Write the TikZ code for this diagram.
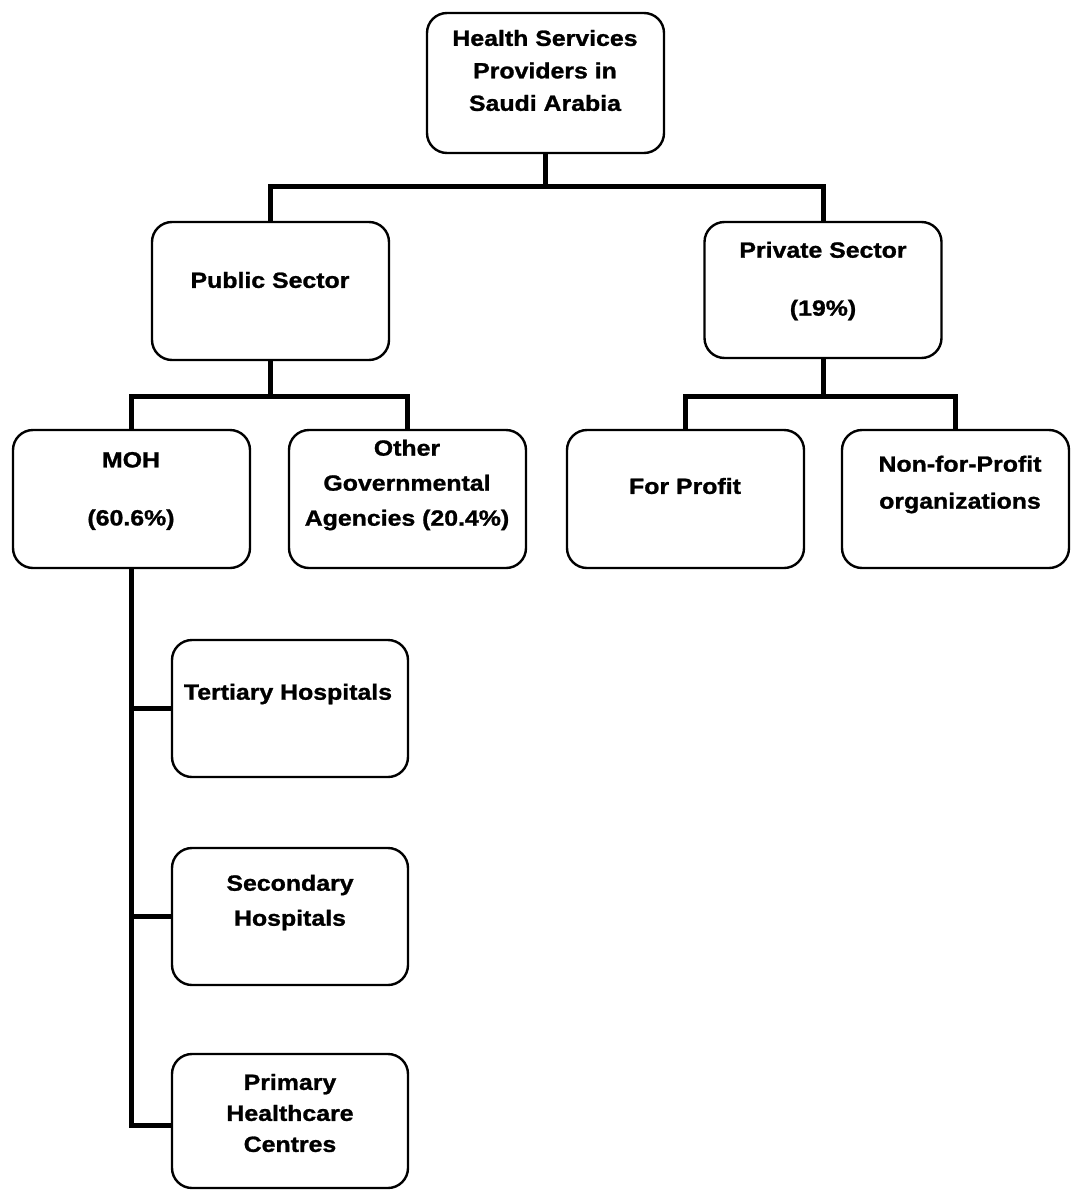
\documentclass[tikz,border=0pt]{standalone}
\usepackage{fontspec}
\setmainfont{Liberation Sans}[FakeStretch=1.13,BoldFeatures={FakeBold=1.2}]
\begin{document}
\begin{tikzpicture}[x=1pt,y=-1pt,
  box/.style={draw=black,line width=2.4pt,rounded corners=20pt,minimum width=237pt,minimum height=138pt,inner sep=0pt},
  lbl/.style={align=center,font=\fontsize{22}{33}\selectfont\bfseries,inner sep=0pt},
  conn/.style={line width=5pt,line cap=butt}]
\useasboundingbox (0,0) rectangle (1071,1191);
% boxes
\node[box,minimum height=140pt] (root) at (545.5,83) {};
\node[box] (public) at (270.5,291) {};
\node[box,minimum height=136pt] (private) at (823,290) {};
\node[box] (moh) at (131.5,499) {};
\node[box] (other) at (407.5,499) {};
\node[box] (forp) at (685.5,499) {};
\node[box,minimum width=227pt] (nonp) at (955.5,499) {};
\node[box,minimum width=236pt,minimum height=137pt] (tert) at (290,708.5) {};
\node[box,minimum width=236pt,minimum height=137pt] (sec) at (290,916.5) {};
\node[box,minimum width=236pt,minimum height=134pt] (prim) at (290,1121) {};
% texts
\node[lbl,font=\fontsize{22}{32.5}\selectfont\bfseries] (troot) at (545,70.5) {Health Services\\Providers in\\Saudi Arabia};
\node[lbl] (tpublic) at (270,280) {Public Sector};
\node[lbl] (tprivate) at (823,281) {Private Sector\\[25pt](19\%)};
\node[lbl] (tmoh) at (131,491) {MOH\\[25pt](60.6\%)};
\node[lbl,font=\fontsize{22}{35}\selectfont\bfseries] (tother) at (407,485) {Other\\Governmental\\Agencies (20.4\%)};
\node[lbl] (tforp) at (685,486) {For Profit};
\node[lbl,font=\fontsize{22}{37}\selectfont\bfseries] (tnonp) at (960,484.5) {Non-for-Profit\\organizations};
\node[lbl] (ttert) at (288,694) {Tertiary Hospitals};
\node[lbl,font=\fontsize{22}{35}\selectfont\bfseries] (tsec) at (290,902.5) {Secondary\\Hospitals};
\node[lbl,font=\fontsize{22}{31}\selectfont\bfseries] (tprim) at (290,1113) {Primary\\Healthcare\\Centres};
% connectors
\draw[conn] (root.south) -- ++(0,32) -| (public.north);
\draw[conn] (root.south) ++(0,32) -| (private.north);
\draw[conn] (public.south) -- ++(0,35) -| (moh.north);
\draw[conn] (public.south) ++(0,35) -| (other.north);
\draw[conn] (private.south) -- ++(0,37) -| (forp.north);
\draw[conn] (private.south) ++(0,37) -| (nonp.north);
\draw[conn] (moh.south) |- ([yshift=-4pt]prim.west);
\draw[conn] (tert.west) -- (tert.west -| moh.south);
\draw[conn] (sec.west) -- (sec.west -| moh.south);
\end{tikzpicture}
\end{document}
